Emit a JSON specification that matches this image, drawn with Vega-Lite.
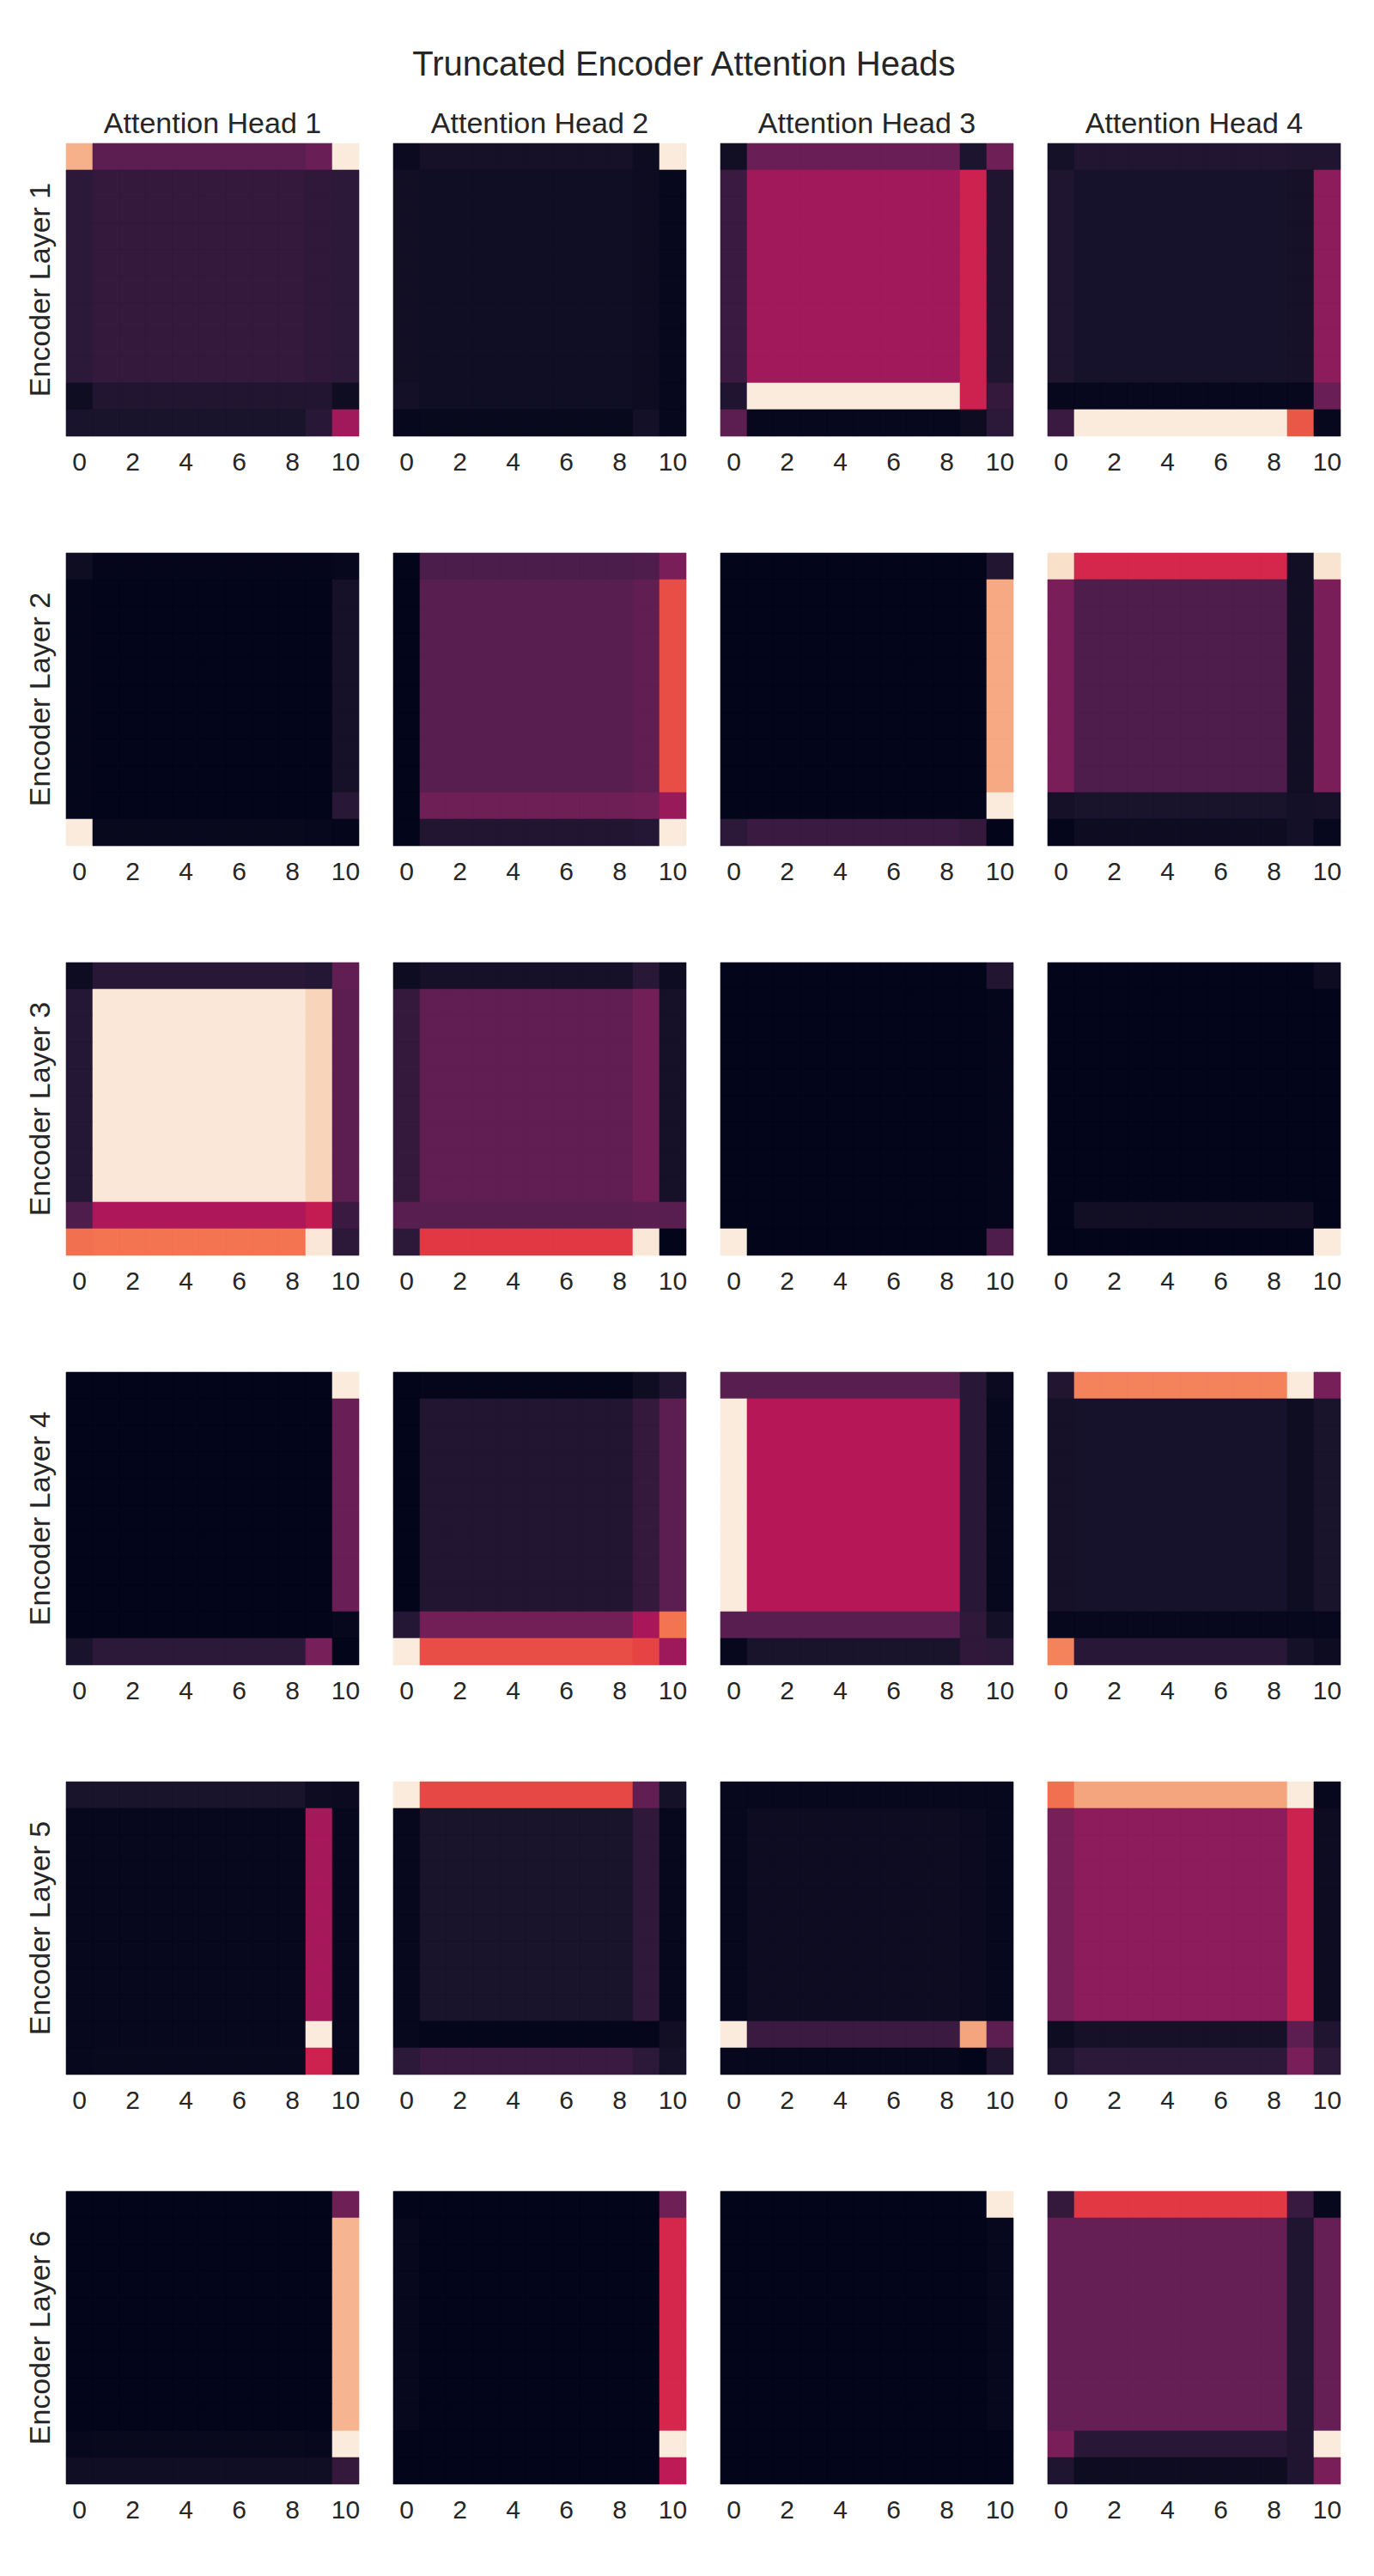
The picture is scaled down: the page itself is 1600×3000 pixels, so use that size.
{
"$schema":"https://vega.github.io/schema/vega-lite/v6.json",
"padding":{"left":30,"top":56,"right":0,"bottom":0},
"background":"white",
"title":{"text":"Truncated Encoder Attention Heads","fontSize":40,"fontWeight":"normal","font":"Liberation Sans","color":"#262626","anchor":"middle","offset":32},
"data":{"values":[
{"L":1,"H":1,"r":0,"c":[0,1,2,3,4,5,6,7,8,9,10],"v":[0.85,0.24,0.24,0.24,0.24,0.24,0.24,0.24,0.24,0.27,1]},
{"L":1,"H":1,"r":1,"c":[0,1,2,3,4,5,6,7,8,9,10],"v":[0.12,0.14,0.14,0.14,0.14,0.14,0.14,0.14,0.14,0.13,0.12]},
{"L":1,"H":1,"r":2,"c":[0,1,2,3,4,5,6,7,8,9,10],"v":[0.12,0.14,0.14,0.14,0.14,0.14,0.14,0.14,0.14,0.13,0.12]},
{"L":1,"H":1,"r":3,"c":[0,1,2,3,4,5,6,7,8,9,10],"v":[0.12,0.14,0.14,0.14,0.14,0.14,0.14,0.14,0.14,0.13,0.12]},
{"L":1,"H":1,"r":4,"c":[0,1,2,3,4,5,6,7,8,9,10],"v":[0.12,0.14,0.14,0.14,0.14,0.14,0.14,0.14,0.14,0.13,0.12]},
{"L":1,"H":1,"r":5,"c":[0,1,2,3,4,5,6,7,8,9,10],"v":[0.12,0.14,0.14,0.14,0.14,0.14,0.14,0.14,0.14,0.13,0.12]},
{"L":1,"H":1,"r":6,"c":[0,1,2,3,4,5,6,7,8,9,10],"v":[0.12,0.14,0.14,0.14,0.14,0.14,0.14,0.14,0.14,0.13,0.12]},
{"L":1,"H":1,"r":7,"c":[0,1,2,3,4,5,6,7,8,9,10],"v":[0.12,0.14,0.14,0.14,0.14,0.14,0.14,0.14,0.14,0.13,0.12]},
{"L":1,"H":1,"r":8,"c":[0,1,2,3,4,5,6,7,8,9,10],"v":[0.12,0.14,0.14,0.14,0.14,0.14,0.14,0.14,0.14,0.13,0.12]},
{"L":1,"H":1,"r":9,"c":[0,1,2,3,4,5,6,7,8,9,10],"v":[0.03,0.09,0.09,0.09,0.09,0.09,0.09,0.09,0.09,0.09,0.03]},
{"L":1,"H":1,"r":10,"c":[0,1,2,3,4,5,6,7,8,9,10],"v":[0.07,0.065,0.065,0.065,0.065,0.065,0.065,0.065,0.065,0.11,0.4]},
{"L":1,"H":2,"r":0,"c":[0,1,2,3,4,5,6,7,8,9,10],"v":[0.02,0.055,0.055,0.055,0.055,0.055,0.055,0.055,0.055,0.025,1]},
{"L":1,"H":2,"r":1,"c":[0,1,2,3,4,5,6,7,8,9,10],"v":[0.04,0.035,0.035,0.035,0.035,0.035,0.035,0.035,0.035,0.025,0.01]},
{"L":1,"H":2,"r":2,"c":[0,1,2,3,4,5,6,7,8,9,10],"v":[0.04,0.035,0.035,0.035,0.035,0.035,0.035,0.035,0.035,0.025,0.01]},
{"L":1,"H":2,"r":3,"c":[0,1,2,3,4,5,6,7,8,9,10],"v":[0.04,0.035,0.035,0.035,0.035,0.035,0.035,0.035,0.035,0.025,0.01]},
{"L":1,"H":2,"r":4,"c":[0,1,2,3,4,5,6,7,8,9,10],"v":[0.04,0.035,0.035,0.035,0.035,0.035,0.035,0.035,0.035,0.025,0.01]},
{"L":1,"H":2,"r":5,"c":[0,1,2,3,4,5,6,7,8,9,10],"v":[0.04,0.035,0.035,0.035,0.035,0.035,0.035,0.035,0.035,0.025,0.01]},
{"L":1,"H":2,"r":6,"c":[0,1,2,3,4,5,6,7,8,9,10],"v":[0.04,0.035,0.035,0.035,0.035,0.035,0.035,0.035,0.035,0.025,0.01]},
{"L":1,"H":2,"r":7,"c":[0,1,2,3,4,5,6,7,8,9,10],"v":[0.04,0.035,0.035,0.035,0.035,0.035,0.035,0.035,0.035,0.025,0.01]},
{"L":1,"H":2,"r":8,"c":[0,1,2,3,4,5,6,7,8,9,10],"v":[0.04,0.035,0.035,0.035,0.035,0.035,0.035,0.035,0.035,0.025,0.01]},
{"L":1,"H":2,"r":9,"c":[0,1,2,3,4,5,6,7,8,9,10],"v":[0.045,0.035,0.035,0.035,0.035,0.035,0.035,0.035,0.035,0.025,0.01]},
{"L":1,"H":2,"r":10,"c":[0,1,2,3,4,5,6,7,8,9,10],"v":[0.01,0.015,0.015,0.015,0.015,0.015,0.015,0.015,0.015,0.045,0.01]},
{"L":1,"H":3,"r":0,"c":[0,1,2,3,4,5,6,7,8,9,10],"v":[0.04,0.27,0.27,0.27,0.27,0.27,0.27,0.27,0.27,0.08,0.28]},
{"L":1,"H":3,"r":1,"c":[0,1,2,3,4,5,6,7,8,9,10],"v":[0.16,0.4,0.4,0.4,0.4,0.4,0.4,0.4,0.4,0.51,0.085]},
{"L":1,"H":3,"r":2,"c":[0,1,2,3,4,5,6,7,8,9,10],"v":[0.16,0.4,0.4,0.4,0.4,0.4,0.4,0.4,0.4,0.51,0.085]},
{"L":1,"H":3,"r":3,"c":[0,1,2,3,4,5,6,7,8,9,10],"v":[0.16,0.4,0.4,0.4,0.4,0.4,0.4,0.4,0.4,0.51,0.085]},
{"L":1,"H":3,"r":4,"c":[0,1,2,3,4,5,6,7,8,9,10],"v":[0.16,0.4,0.4,0.4,0.4,0.4,0.4,0.4,0.4,0.51,0.085]},
{"L":1,"H":3,"r":5,"c":[0,1,2,3,4,5,6,7,8,9,10],"v":[0.16,0.4,0.4,0.4,0.4,0.4,0.4,0.4,0.4,0.51,0.085]},
{"L":1,"H":3,"r":6,"c":[0,1,2,3,4,5,6,7,8,9,10],"v":[0.16,0.4,0.4,0.4,0.4,0.4,0.4,0.4,0.4,0.51,0.085]},
{"L":1,"H":3,"r":7,"c":[0,1,2,3,4,5,6,7,8,9,10],"v":[0.16,0.4,0.4,0.4,0.4,0.4,0.4,0.4,0.4,0.51,0.085]},
{"L":1,"H":3,"r":8,"c":[0,1,2,3,4,5,6,7,8,9,10],"v":[0.16,0.4,0.4,0.4,0.4,0.4,0.4,0.4,0.4,0.51,0.085]},
{"L":1,"H":3,"r":9,"c":[0,1,2,3,4,5,6,7,8,9,10],"v":[0.085,1,1,1,1,1,1,1,1,0.51,0.14]},
{"L":1,"H":3,"r":10,"c":[0,1,2,3,4,5,6,7,8,9,10],"v":[0.24,0.01,0.01,0.01,0.01,0.01,0.01,0.01,0.01,0.025,0.12]},
{"L":1,"H":4,"r":0,"c":[0,1,2,3,4,5,6,7,8,9,10],"v":[0.05,0.09,0.09,0.09,0.09,0.09,0.09,0.09,0.09,0.085,0.085]},
{"L":1,"H":4,"r":1,"c":[0,1,2,3,4,5,6,7,8,9,10],"v":[0.085,0.06,0.06,0.06,0.06,0.06,0.06,0.06,0.06,0.055,0.35]},
{"L":1,"H":4,"r":2,"c":[0,1,2,3,4,5,6,7,8,9,10],"v":[0.085,0.06,0.06,0.06,0.06,0.06,0.06,0.06,0.06,0.055,0.35]},
{"L":1,"H":4,"r":3,"c":[0,1,2,3,4,5,6,7,8,9,10],"v":[0.085,0.06,0.06,0.06,0.06,0.06,0.06,0.06,0.06,0.055,0.35]},
{"L":1,"H":4,"r":4,"c":[0,1,2,3,4,5,6,7,8,9,10],"v":[0.085,0.06,0.06,0.06,0.06,0.06,0.06,0.06,0.06,0.055,0.35]},
{"L":1,"H":4,"r":5,"c":[0,1,2,3,4,5,6,7,8,9,10],"v":[0.085,0.06,0.06,0.06,0.06,0.06,0.06,0.06,0.06,0.055,0.35]},
{"L":1,"H":4,"r":6,"c":[0,1,2,3,4,5,6,7,8,9,10],"v":[0.085,0.06,0.06,0.06,0.06,0.06,0.06,0.06,0.06,0.055,0.35]},
{"L":1,"H":4,"r":7,"c":[0,1,2,3,4,5,6,7,8,9,10],"v":[0.085,0.06,0.06,0.06,0.06,0.06,0.06,0.06,0.06,0.055,0.35]},
{"L":1,"H":4,"r":8,"c":[0,1,2,3,4,5,6,7,8,9,10],"v":[0.085,0.06,0.06,0.06,0.06,0.06,0.06,0.06,0.06,0.055,0.35]},
{"L":1,"H":4,"r":9,"c":[0,1,2,3,4,5,6,7,8,9,10],"v":[0.01,0.01,0.01,0.01,0.01,0.01,0.01,0.01,0.01,0.01,0.27]},
{"L":1,"H":4,"r":10,"c":[0,1,2,3,4,5,6,7,8,9,10],"v":[0.16,1,1,1,1,1,1,1,1,0.64,0.01]},
{"L":2,"H":1,"r":0,"c":[0,1,2,3,4,5,6,7,8,9,10],"v":[0.03,0.005,0.005,0.005,0.005,0.005,0.005,0.005,0.005,0.005,0.01]},
{"L":2,"H":1,"r":1,"c":[0,1,2,3,4,5,6,7,8,9,10],"v":[0.005,0,0,0,0,0,0,0,0,0,0.055]},
{"L":2,"H":1,"r":2,"c":[0,1,2,3,4,5,6,7,8,9,10],"v":[0.005,0,0,0,0,0,0,0,0,0,0.055]},
{"L":2,"H":1,"r":3,"c":[0,1,2,3,4,5,6,7,8,9,10],"v":[0.005,0,0,0,0,0,0,0,0,0,0.055]},
{"L":2,"H":1,"r":4,"c":[0,1,2,3,4,5,6,7,8,9,10],"v":[0.005,0,0,0,0,0,0,0,0,0,0.055]},
{"L":2,"H":1,"r":5,"c":[0,1,2,3,4,5,6,7,8,9,10],"v":[0.005,0,0,0,0,0,0,0,0,0,0.055]},
{"L":2,"H":1,"r":6,"c":[0,1,2,3,4,5,6,7,8,9,10],"v":[0.005,0,0,0,0,0,0,0,0,0,0.055]},
{"L":2,"H":1,"r":7,"c":[0,1,2,3,4,5,6,7,8,9,10],"v":[0.005,0,0,0,0,0,0,0,0,0,0.055]},
{"L":2,"H":1,"r":8,"c":[0,1,2,3,4,5,6,7,8,9,10],"v":[0.005,0,0,0,0,0,0,0,0,0,0.055]},
{"L":2,"H":1,"r":9,"c":[0,1,2,3,4,5,6,7,8,9,10],"v":[0.005,0,0,0,0,0,0,0,0,0,0.11]},
{"L":2,"H":1,"r":10,"c":[0,1,2,3,4,5,6,7,8,9,10],"v":[1,0.015,0.015,0.015,0.015,0.015,0.015,0.015,0.015,0.01,0.005]},
{"L":2,"H":2,"r":0,"c":[0,1,2,3,4,5,6,7,8,9,10],"v":[0,0.2,0.2,0.2,0.2,0.2,0.2,0.2,0.2,0.21,0.31]},
{"L":2,"H":2,"r":1,"c":[0,1,2,3,4,5,6,7,8,9,10],"v":[0,0.23,0.23,0.23,0.23,0.23,0.23,0.23,0.23,0.25,0.62]},
{"L":2,"H":2,"r":2,"c":[0,1,2,3,4,5,6,7,8,9,10],"v":[0,0.23,0.23,0.23,0.23,0.23,0.23,0.23,0.23,0.25,0.62]},
{"L":2,"H":2,"r":3,"c":[0,1,2,3,4,5,6,7,8,9,10],"v":[0,0.23,0.23,0.23,0.23,0.23,0.23,0.23,0.23,0.25,0.62]},
{"L":2,"H":2,"r":4,"c":[0,1,2,3,4,5,6,7,8,9,10],"v":[0,0.23,0.23,0.23,0.23,0.23,0.23,0.23,0.23,0.25,0.62]},
{"L":2,"H":2,"r":5,"c":[0,1,2,3,4,5,6,7,8,9,10],"v":[0,0.23,0.23,0.23,0.23,0.23,0.23,0.23,0.23,0.25,0.62]},
{"L":2,"H":2,"r":6,"c":[0,1,2,3,4,5,6,7,8,9,10],"v":[0,0.23,0.23,0.23,0.23,0.23,0.23,0.23,0.23,0.25,0.62]},
{"L":2,"H":2,"r":7,"c":[0,1,2,3,4,5,6,7,8,9,10],"v":[0,0.23,0.23,0.23,0.23,0.23,0.23,0.23,0.23,0.25,0.62]},
{"L":2,"H":2,"r":8,"c":[0,1,2,3,4,5,6,7,8,9,10],"v":[0,0.23,0.23,0.23,0.23,0.23,0.23,0.23,0.23,0.25,0.62]},
{"L":2,"H":2,"r":9,"c":[0,1,2,3,4,5,6,7,8,9,10],"v":[0,0.28,0.28,0.28,0.28,0.28,0.28,0.28,0.28,0.29,0.38]},
{"L":2,"H":2,"r":10,"c":[0,1,2,3,4,5,6,7,8,9,10],"v":[0,0.09,0.09,0.09,0.09,0.09,0.09,0.09,0.09,0.1,1]},
{"L":2,"H":3,"r":0,"c":[0,1,2,3,4,5,6,7,8,9,10],"v":[0,0,0,0,0,0,0,0,0,0,0.09]},
{"L":2,"H":3,"r":1,"c":[0,1,2,3,4,5,6,7,8,9,10],"v":[0,0,0,0,0,0,0,0,0,0,0.83]},
{"L":2,"H":3,"r":2,"c":[0,1,2,3,4,5,6,7,8,9,10],"v":[0,0,0,0,0,0,0,0,0,0,0.83]},
{"L":2,"H":3,"r":3,"c":[0,1,2,3,4,5,6,7,8,9,10],"v":[0,0,0,0,0,0,0,0,0,0,0.83]},
{"L":2,"H":3,"r":4,"c":[0,1,2,3,4,5,6,7,8,9,10],"v":[0,0,0,0,0,0,0,0,0,0,0.83]},
{"L":2,"H":3,"r":5,"c":[0,1,2,3,4,5,6,7,8,9,10],"v":[0,0,0,0,0,0,0,0,0,0,0.83]},
{"L":2,"H":3,"r":6,"c":[0,1,2,3,4,5,6,7,8,9,10],"v":[0,0,0,0,0,0,0,0,0,0,0.83]},
{"L":2,"H":3,"r":7,"c":[0,1,2,3,4,5,6,7,8,9,10],"v":[0,0,0,0,0,0,0,0,0,0,0.83]},
{"L":2,"H":3,"r":8,"c":[0,1,2,3,4,5,6,7,8,9,10],"v":[0,0,0,0,0,0,0,0,0,0,0.83]},
{"L":2,"H":3,"r":9,"c":[0,1,2,3,4,5,6,7,8,9,10],"v":[0,0,0,0,0,0,0,0,0,0,1]},
{"L":2,"H":3,"r":10,"c":[0,1,2,3,4,5,6,7,8,9,10],"v":[0.12,0.16,0.16,0.16,0.16,0.16,0.16,0.16,0.16,0.14,0]},
{"L":2,"H":4,"r":0,"c":[0,1,2,3,4,5,6,7,8,9,10],"v":[0.97,0.53,0.53,0.53,0.53,0.53,0.53,0.53,0.53,0.04,0.98]},
{"L":2,"H":4,"r":1,"c":[0,1,2,3,4,5,6,7,8,9,10],"v":[0.31,0.21,0.21,0.21,0.21,0.21,0.21,0.21,0.21,0.04,0.31]},
{"L":2,"H":4,"r":2,"c":[0,1,2,3,4,5,6,7,8,9,10],"v":[0.31,0.21,0.21,0.21,0.21,0.21,0.21,0.21,0.21,0.04,0.31]},
{"L":2,"H":4,"r":3,"c":[0,1,2,3,4,5,6,7,8,9,10],"v":[0.31,0.21,0.21,0.21,0.21,0.21,0.21,0.21,0.21,0.04,0.31]},
{"L":2,"H":4,"r":4,"c":[0,1,2,3,4,5,6,7,8,9,10],"v":[0.31,0.21,0.21,0.21,0.21,0.21,0.21,0.21,0.21,0.04,0.31]},
{"L":2,"H":4,"r":5,"c":[0,1,2,3,4,5,6,7,8,9,10],"v":[0.31,0.21,0.21,0.21,0.21,0.21,0.21,0.21,0.21,0.04,0.31]},
{"L":2,"H":4,"r":6,"c":[0,1,2,3,4,5,6,7,8,9,10],"v":[0.31,0.21,0.21,0.21,0.21,0.21,0.21,0.21,0.21,0.04,0.31]},
{"L":2,"H":4,"r":7,"c":[0,1,2,3,4,5,6,7,8,9,10],"v":[0.31,0.21,0.21,0.21,0.21,0.21,0.21,0.21,0.21,0.04,0.31]},
{"L":2,"H":4,"r":8,"c":[0,1,2,3,4,5,6,7,8,9,10],"v":[0.31,0.21,0.21,0.21,0.21,0.21,0.21,0.21,0.21,0.04,0.31]},
{"L":2,"H":4,"r":9,"c":[0,1,2,3,4,5,6,7,8,9,10],"v":[0.055,0.065,0.065,0.065,0.065,0.065,0.065,0.065,0.065,0.045,0.055]},
{"L":2,"H":4,"r":10,"c":[0,1,2,3,4,5,6,7,8,9,10],"v":[0.005,0.025,0.025,0.025,0.025,0.025,0.025,0.025,0.025,0.045,0.01]},
{"L":3,"H":1,"r":0,"c":[0,1,2,3,4,5,6,7,8,9,10],"v":[0.025,0.11,0.11,0.11,0.11,0.11,0.11,0.11,0.11,0.1,0.25]},
{"L":3,"H":1,"r":1,"c":[0,1,2,3,4,5,6,7,8,9,10],"v":[0.1,0.99,0.99,0.99,0.99,0.99,0.99,0.99,0.99,0.94,0.24]},
{"L":3,"H":1,"r":2,"c":[0,1,2,3,4,5,6,7,8,9,10],"v":[0.1,0.99,0.99,0.99,0.99,0.99,0.99,0.99,0.99,0.94,0.24]},
{"L":3,"H":1,"r":3,"c":[0,1,2,3,4,5,6,7,8,9,10],"v":[0.1,0.99,0.99,0.99,0.99,0.99,0.99,0.99,0.99,0.94,0.24]},
{"L":3,"H":1,"r":4,"c":[0,1,2,3,4,5,6,7,8,9,10],"v":[0.1,0.99,0.99,0.99,0.99,0.99,0.99,0.99,0.99,0.94,0.24]},
{"L":3,"H":1,"r":5,"c":[0,1,2,3,4,5,6,7,8,9,10],"v":[0.1,0.99,0.99,0.99,0.99,0.99,0.99,0.99,0.99,0.94,0.24]},
{"L":3,"H":1,"r":6,"c":[0,1,2,3,4,5,6,7,8,9,10],"v":[0.1,0.99,0.99,0.99,0.99,0.99,0.99,0.99,0.99,0.94,0.24]},
{"L":3,"H":1,"r":7,"c":[0,1,2,3,4,5,6,7,8,9,10],"v":[0.1,0.99,0.99,0.99,0.99,0.99,0.99,0.99,0.99,0.94,0.24]},
{"L":3,"H":1,"r":8,"c":[0,1,2,3,4,5,6,7,8,9,10],"v":[0.1,0.99,0.99,0.99,0.99,0.99,0.99,0.99,0.99,0.94,0.24]},
{"L":3,"H":1,"r":9,"c":[0,1,2,3,4,5,6,7,8,9,10],"v":[0.21,0.43,0.43,0.43,0.43,0.43,0.43,0.43,0.43,0.48,0.16]},
{"L":3,"H":1,"r":10,"c":[0,1,2,3,4,5,6,7,8,9,10],"v":[0.7,0.71,0.71,0.71,0.71,0.71,0.71,0.71,0.71,0.99,0.12]},
{"L":3,"H":2,"r":0,"c":[0,1,2,3,4,5,6,7,8,9,10],"v":[0.025,0.055,0.055,0.055,0.055,0.055,0.055,0.055,0.055,0.11,0.025]},
{"L":3,"H":2,"r":1,"c":[0,1,2,3,4,5,6,7,8,9,10],"v":[0.14,0.25,0.25,0.25,0.25,0.25,0.25,0.25,0.25,0.29,0.055]},
{"L":3,"H":2,"r":2,"c":[0,1,2,3,4,5,6,7,8,9,10],"v":[0.14,0.25,0.25,0.25,0.25,0.25,0.25,0.25,0.25,0.29,0.055]},
{"L":3,"H":2,"r":3,"c":[0,1,2,3,4,5,6,7,8,9,10],"v":[0.14,0.25,0.25,0.25,0.25,0.25,0.25,0.25,0.25,0.29,0.055]},
{"L":3,"H":2,"r":4,"c":[0,1,2,3,4,5,6,7,8,9,10],"v":[0.14,0.25,0.25,0.25,0.25,0.25,0.25,0.25,0.25,0.29,0.055]},
{"L":3,"H":2,"r":5,"c":[0,1,2,3,4,5,6,7,8,9,10],"v":[0.14,0.25,0.25,0.25,0.25,0.25,0.25,0.25,0.25,0.29,0.055]},
{"L":3,"H":2,"r":6,"c":[0,1,2,3,4,5,6,7,8,9,10],"v":[0.14,0.25,0.25,0.25,0.25,0.25,0.25,0.25,0.25,0.29,0.055]},
{"L":3,"H":2,"r":7,"c":[0,1,2,3,4,5,6,7,8,9,10],"v":[0.14,0.25,0.25,0.25,0.25,0.25,0.25,0.25,0.25,0.29,0.055]},
{"L":3,"H":2,"r":8,"c":[0,1,2,3,4,5,6,7,8,9,10],"v":[0.14,0.25,0.25,0.25,0.25,0.25,0.25,0.25,0.25,0.29,0.055]},
{"L":3,"H":2,"r":9,"c":[0,1,2,3,4,5,6,7,8,9,10],"v":[0.23,0.23,0.23,0.23,0.23,0.23,0.23,0.23,0.23,0.235,0.23]},
{"L":3,"H":2,"r":10,"c":[0,1,2,3,4,5,6,7,8,9,10],"v":[0.12,0.58,0.58,0.58,0.58,0.58,0.58,0.58,0.58,0.99,0]},
{"L":3,"H":3,"r":0,"c":[0,1,2,3,4,5,6,7,8,9,10],"v":[0,0,0,0,0,0,0,0,0,0,0.09]},
{"L":3,"H":3,"r":1,"c":[0,1,2,3,4,5,6,7,8,9,10],"v":[0,0,0,0,0,0,0,0,0,0,0.005]},
{"L":3,"H":3,"r":2,"c":[0,1,2,3,4,5,6,7,8,9,10],"v":[0,0,0,0,0,0,0,0,0,0,0.005]},
{"L":3,"H":3,"r":3,"c":[0,1,2,3,4,5,6,7,8,9,10],"v":[0,0,0,0,0,0,0,0,0,0,0.005]},
{"L":3,"H":3,"r":4,"c":[0,1,2,3,4,5,6,7,8,9,10],"v":[0,0,0,0,0,0,0,0,0,0,0.005]},
{"L":3,"H":3,"r":5,"c":[0,1,2,3,4,5,6,7,8,9,10],"v":[0,0,0,0,0,0,0,0,0,0,0.005]},
{"L":3,"H":3,"r":6,"c":[0,1,2,3,4,5,6,7,8,9,10],"v":[0,0,0,0,0,0,0,0,0,0,0.005]},
{"L":3,"H":3,"r":7,"c":[0,1,2,3,4,5,6,7,8,9,10],"v":[0,0,0,0,0,0,0,0,0,0,0.005]},
{"L":3,"H":3,"r":8,"c":[0,1,2,3,4,5,6,7,8,9,10],"v":[0,0,0,0,0,0,0,0,0,0,0.005]},
{"L":3,"H":3,"r":9,"c":[0,1,2,3,4,5,6,7,8,9,10],"v":[0,0,0,0,0,0,0,0,0,0,0.005]},
{"L":3,"H":3,"r":10,"c":[0,1,2,3,4,5,6,7,8,9,10],"v":[1,0,0,0,0,0,0,0,0,0,0.21]},
{"L":3,"H":4,"r":0,"c":[0,1,2,3,4,5,6,7,8,9,10],"v":[0,0,0,0,0,0,0,0,0,0,0.025]},
{"L":3,"H":4,"r":1,"c":[0,1,2,3,4,5,6,7,8,9,10],"v":[0,0,0,0,0,0,0,0,0,0,0]},
{"L":3,"H":4,"r":2,"c":[0,1,2,3,4,5,6,7,8,9,10],"v":[0,0,0,0,0,0,0,0,0,0,0]},
{"L":3,"H":4,"r":3,"c":[0,1,2,3,4,5,6,7,8,9,10],"v":[0,0,0,0,0,0,0,0,0,0,0]},
{"L":3,"H":4,"r":4,"c":[0,1,2,3,4,5,6,7,8,9,10],"v":[0,0,0,0,0,0,0,0,0,0,0]},
{"L":3,"H":4,"r":5,"c":[0,1,2,3,4,5,6,7,8,9,10],"v":[0,0,0,0,0,0,0,0,0,0,0]},
{"L":3,"H":4,"r":6,"c":[0,1,2,3,4,5,6,7,8,9,10],"v":[0,0,0,0,0,0,0,0,0,0,0]},
{"L":3,"H":4,"r":7,"c":[0,1,2,3,4,5,6,7,8,9,10],"v":[0,0,0,0,0,0,0,0,0,0,0]},
{"L":3,"H":4,"r":8,"c":[0,1,2,3,4,5,6,7,8,9,10],"v":[0,0,0,0,0,0,0,0,0,0,0]},
{"L":3,"H":4,"r":9,"c":[0,1,2,3,4,5,6,7,8,9,10],"v":[0,0.04,0.04,0.04,0.04,0.04,0.04,0.04,0.04,0.04,0]},
{"L":3,"H":4,"r":10,"c":[0,1,2,3,4,5,6,7,8,9,10],"v":[0,0,0,0,0,0,0,0,0,0,1]},
{"L":4,"H":1,"r":0,"c":[0,1,2,3,4,5,6,7,8,9,10],"v":[0,0,0,0,0,0,0,0,0,0,1]},
{"L":4,"H":1,"r":1,"c":[0,1,2,3,4,5,6,7,8,9,10],"v":[0,0,0,0,0,0,0,0,0,0,0.27]},
{"L":4,"H":1,"r":2,"c":[0,1,2,3,4,5,6,7,8,9,10],"v":[0,0,0,0,0,0,0,0,0,0,0.27]},
{"L":4,"H":1,"r":3,"c":[0,1,2,3,4,5,6,7,8,9,10],"v":[0,0,0,0,0,0,0,0,0,0,0.27]},
{"L":4,"H":1,"r":4,"c":[0,1,2,3,4,5,6,7,8,9,10],"v":[0,0,0,0,0,0,0,0,0,0,0.27]},
{"L":4,"H":1,"r":5,"c":[0,1,2,3,4,5,6,7,8,9,10],"v":[0,0,0,0,0,0,0,0,0,0,0.27]},
{"L":4,"H":1,"r":6,"c":[0,1,2,3,4,5,6,7,8,9,10],"v":[0,0,0,0,0,0,0,0,0,0,0.27]},
{"L":4,"H":1,"r":7,"c":[0,1,2,3,4,5,6,7,8,9,10],"v":[0,0,0,0,0,0,0,0,0,0,0.27]},
{"L":4,"H":1,"r":8,"c":[0,1,2,3,4,5,6,7,8,9,10],"v":[0,0,0,0,0,0,0,0,0,0,0.27]},
{"L":4,"H":1,"r":9,"c":[0,1,2,3,4,5,6,7,8,9,10],"v":[0,0,0,0,0,0,0,0,0,0,0.01]},
{"L":4,"H":1,"r":10,"c":[0,1,2,3,4,5,6,7,8,9,10],"v":[0.07,0.12,0.12,0.12,0.12,0.12,0.12,0.12,0.12,0.3,0]},
{"L":4,"H":2,"r":0,"c":[0,1,2,3,4,5,6,7,8,9,10],"v":[0,0.005,0.005,0.005,0.005,0.005,0.005,0.005,0.005,0.03,0.085]},
{"L":4,"H":2,"r":1,"c":[0,1,2,3,4,5,6,7,8,9,10],"v":[0,0.09,0.09,0.09,0.09,0.09,0.09,0.09,0.09,0.14,0.24]},
{"L":4,"H":2,"r":2,"c":[0,1,2,3,4,5,6,7,8,9,10],"v":[0,0.09,0.09,0.09,0.09,0.09,0.09,0.09,0.09,0.14,0.24]},
{"L":4,"H":2,"r":3,"c":[0,1,2,3,4,5,6,7,8,9,10],"v":[0,0.09,0.09,0.09,0.09,0.09,0.09,0.09,0.09,0.14,0.24]},
{"L":4,"H":2,"r":4,"c":[0,1,2,3,4,5,6,7,8,9,10],"v":[0,0.09,0.09,0.09,0.09,0.09,0.09,0.09,0.09,0.14,0.24]},
{"L":4,"H":2,"r":5,"c":[0,1,2,3,4,5,6,7,8,9,10],"v":[0,0.09,0.09,0.09,0.09,0.09,0.09,0.09,0.09,0.14,0.24]},
{"L":4,"H":2,"r":6,"c":[0,1,2,3,4,5,6,7,8,9,10],"v":[0,0.09,0.09,0.09,0.09,0.09,0.09,0.09,0.09,0.14,0.24]},
{"L":4,"H":2,"r":7,"c":[0,1,2,3,4,5,6,7,8,9,10],"v":[0,0.09,0.09,0.09,0.09,0.09,0.09,0.09,0.09,0.14,0.24]},
{"L":4,"H":2,"r":8,"c":[0,1,2,3,4,5,6,7,8,9,10],"v":[0,0.09,0.09,0.09,0.09,0.09,0.09,0.09,0.09,0.14,0.24]},
{"L":4,"H":2,"r":9,"c":[0,1,2,3,4,5,6,7,8,9,10],"v":[0.1,0.29,0.29,0.29,0.29,0.29,0.29,0.29,0.29,0.42,0.71]},
{"L":4,"H":2,"r":10,"c":[0,1,2,3,4,5,6,7,8,9,10],"v":[1,0.62,0.62,0.62,0.62,0.62,0.62,0.62,0.62,0.6,0.39]},
{"L":4,"H":3,"r":0,"c":[0,1,2,3,4,5,6,7,8,9,10],"v":[0.23,0.23,0.23,0.23,0.23,0.23,0.23,0.23,0.23,0.11,0.02]},
{"L":4,"H":3,"r":1,"c":[0,1,2,3,4,5,6,7,8,9,10],"v":[1,0.45,0.45,0.45,0.45,0.45,0.45,0.45,0.45,0.11,0.01]},
{"L":4,"H":3,"r":2,"c":[0,1,2,3,4,5,6,7,8,9,10],"v":[1,0.45,0.45,0.45,0.45,0.45,0.45,0.45,0.45,0.11,0.01]},
{"L":4,"H":3,"r":3,"c":[0,1,2,3,4,5,6,7,8,9,10],"v":[1,0.45,0.45,0.45,0.45,0.45,0.45,0.45,0.45,0.11,0.01]},
{"L":4,"H":3,"r":4,"c":[0,1,2,3,4,5,6,7,8,9,10],"v":[1,0.45,0.45,0.45,0.45,0.45,0.45,0.45,0.45,0.11,0.01]},
{"L":4,"H":3,"r":5,"c":[0,1,2,3,4,5,6,7,8,9,10],"v":[1,0.45,0.45,0.45,0.45,0.45,0.45,0.45,0.45,0.11,0.01]},
{"L":4,"H":3,"r":6,"c":[0,1,2,3,4,5,6,7,8,9,10],"v":[1,0.45,0.45,0.45,0.45,0.45,0.45,0.45,0.45,0.11,0.01]},
{"L":4,"H":3,"r":7,"c":[0,1,2,3,4,5,6,7,8,9,10],"v":[1,0.45,0.45,0.45,0.45,0.45,0.45,0.45,0.45,0.11,0.01]},
{"L":4,"H":3,"r":8,"c":[0,1,2,3,4,5,6,7,8,9,10],"v":[1,0.45,0.45,0.45,0.45,0.45,0.45,0.45,0.45,0.11,0.01]},
{"L":4,"H":3,"r":9,"c":[0,1,2,3,4,5,6,7,8,9,10],"v":[0.23,0.23,0.23,0.23,0.23,0.23,0.23,0.23,0.23,0.13,0.045]},
{"L":4,"H":3,"r":10,"c":[0,1,2,3,4,5,6,7,8,9,10],"v":[0.01,0.065,0.065,0.065,0.065,0.065,0.065,0.065,0.065,0.13,0.12]},
{"L":4,"H":4,"r":0,"c":[0,1,2,3,4,5,6,7,8,9,10],"v":[0.09,0.74,0.74,0.74,0.74,0.74,0.74,0.74,0.74,1,0.3]},
{"L":4,"H":4,"r":1,"c":[0,1,2,3,4,5,6,7,8,9,10],"v":[0.055,0.06,0.06,0.06,0.06,0.06,0.06,0.06,0.06,0.03,0.065]},
{"L":4,"H":4,"r":2,"c":[0,1,2,3,4,5,6,7,8,9,10],"v":[0.055,0.06,0.06,0.06,0.06,0.06,0.06,0.06,0.06,0.03,0.065]},
{"L":4,"H":4,"r":3,"c":[0,1,2,3,4,5,6,7,8,9,10],"v":[0.055,0.06,0.06,0.06,0.06,0.06,0.06,0.06,0.06,0.03,0.065]},
{"L":4,"H":4,"r":4,"c":[0,1,2,3,4,5,6,7,8,9,10],"v":[0.055,0.06,0.06,0.06,0.06,0.06,0.06,0.06,0.06,0.03,0.065]},
{"L":4,"H":4,"r":5,"c":[0,1,2,3,4,5,6,7,8,9,10],"v":[0.055,0.06,0.06,0.06,0.06,0.06,0.06,0.06,0.06,0.03,0.065]},
{"L":4,"H":4,"r":6,"c":[0,1,2,3,4,5,6,7,8,9,10],"v":[0.055,0.06,0.06,0.06,0.06,0.06,0.06,0.06,0.06,0.03,0.065]},
{"L":4,"H":4,"r":7,"c":[0,1,2,3,4,5,6,7,8,9,10],"v":[0.055,0.06,0.06,0.06,0.06,0.06,0.06,0.06,0.06,0.03,0.065]},
{"L":4,"H":4,"r":8,"c":[0,1,2,3,4,5,6,7,8,9,10],"v":[0.055,0.06,0.06,0.06,0.06,0.06,0.06,0.06,0.06,0.03,0.065]},
{"L":4,"H":4,"r":9,"c":[0,1,2,3,4,5,6,7,8,9,10],"v":[0.01,0.01,0.01,0.01,0.01,0.01,0.01,0.01,0.01,0.01,0.01]},
{"L":4,"H":4,"r":10,"c":[0,1,2,3,4,5,6,7,8,9,10],"v":[0.74,0.11,0.11,0.11,0.11,0.11,0.11,0.11,0.11,0.05,0.025]},
{"L":5,"H":1,"r":0,"c":[0,1,2,3,4,5,6,7,8,9,10],"v":[0.065,0.065,0.065,0.065,0.065,0.065,0.065,0.065,0.065,0.025,0.02]},
{"L":5,"H":1,"r":1,"c":[0,1,2,3,4,5,6,7,8,9,10],"v":[0.01,0.01,0.01,0.01,0.01,0.01,0.01,0.01,0.01,0.41,0.01]},
{"L":5,"H":1,"r":2,"c":[0,1,2,3,4,5,6,7,8,9,10],"v":[0.01,0.01,0.01,0.01,0.01,0.01,0.01,0.01,0.01,0.41,0.01]},
{"L":5,"H":1,"r":3,"c":[0,1,2,3,4,5,6,7,8,9,10],"v":[0.01,0.01,0.01,0.01,0.01,0.01,0.01,0.01,0.01,0.41,0.01]},
{"L":5,"H":1,"r":4,"c":[0,1,2,3,4,5,6,7,8,9,10],"v":[0.01,0.01,0.01,0.01,0.01,0.01,0.01,0.01,0.01,0.41,0.01]},
{"L":5,"H":1,"r":5,"c":[0,1,2,3,4,5,6,7,8,9,10],"v":[0.01,0.01,0.01,0.01,0.01,0.01,0.01,0.01,0.01,0.41,0.01]},
{"L":5,"H":1,"r":6,"c":[0,1,2,3,4,5,6,7,8,9,10],"v":[0.01,0.01,0.01,0.01,0.01,0.01,0.01,0.01,0.01,0.41,0.01]},
{"L":5,"H":1,"r":7,"c":[0,1,2,3,4,5,6,7,8,9,10],"v":[0.01,0.01,0.01,0.01,0.01,0.01,0.01,0.01,0.01,0.41,0.01]},
{"L":5,"H":1,"r":8,"c":[0,1,2,3,4,5,6,7,8,9,10],"v":[0.01,0.01,0.01,0.01,0.01,0.01,0.01,0.01,0.01,0.41,0.01]},
{"L":5,"H":1,"r":9,"c":[0,1,2,3,4,5,6,7,8,9,10],"v":[0.01,0.01,0.01,0.01,0.01,0.01,0.01,0.01,0.01,1,0.01]},
{"L":5,"H":1,"r":10,"c":[0,1,2,3,4,5,6,7,8,9,10],"v":[0.01,0.015,0.015,0.015,0.015,0.015,0.015,0.015,0.015,0.51,0.01]},
{"L":5,"H":2,"r":0,"c":[0,1,2,3,4,5,6,7,8,9,10],"v":[1,0.61,0.61,0.61,0.61,0.61,0.61,0.61,0.61,0.25,0.05]},
{"L":5,"H":2,"r":1,"c":[0,1,2,3,4,5,6,7,8,9,10],"v":[0.01,0.065,0.065,0.065,0.065,0.065,0.065,0.065,0.065,0.13,0.01]},
{"L":5,"H":2,"r":2,"c":[0,1,2,3,4,5,6,7,8,9,10],"v":[0.01,0.065,0.065,0.065,0.065,0.065,0.065,0.065,0.065,0.13,0.01]},
{"L":5,"H":2,"r":3,"c":[0,1,2,3,4,5,6,7,8,9,10],"v":[0.01,0.065,0.065,0.065,0.065,0.065,0.065,0.065,0.065,0.13,0.01]},
{"L":5,"H":2,"r":4,"c":[0,1,2,3,4,5,6,7,8,9,10],"v":[0.01,0.065,0.065,0.065,0.065,0.065,0.065,0.065,0.065,0.13,0.01]},
{"L":5,"H":2,"r":5,"c":[0,1,2,3,4,5,6,7,8,9,10],"v":[0.01,0.065,0.065,0.065,0.065,0.065,0.065,0.065,0.065,0.13,0.01]},
{"L":5,"H":2,"r":6,"c":[0,1,2,3,4,5,6,7,8,9,10],"v":[0.01,0.065,0.065,0.065,0.065,0.065,0.065,0.065,0.065,0.13,0.01]},
{"L":5,"H":2,"r":7,"c":[0,1,2,3,4,5,6,7,8,9,10],"v":[0.01,0.065,0.065,0.065,0.065,0.065,0.065,0.065,0.065,0.13,0.01]},
{"L":5,"H":2,"r":8,"c":[0,1,2,3,4,5,6,7,8,9,10],"v":[0.01,0.065,0.065,0.065,0.065,0.065,0.065,0.065,0.065,0.13,0.01]},
{"L":5,"H":2,"r":9,"c":[0,1,2,3,4,5,6,7,8,9,10],"v":[0.01,0.005,0.005,0.005,0.005,0.005,0.005,0.005,0.005,0.005,0.04]},
{"L":5,"H":2,"r":10,"c":[0,1,2,3,4,5,6,7,8,9,10],"v":[0.12,0.16,0.16,0.16,0.16,0.16,0.16,0.16,0.16,0.12,0.05]},
{"L":5,"H":3,"r":0,"c":[0,1,2,3,4,5,6,7,8,9,10],"v":[0.01,0.01,0.01,0.01,0.01,0.01,0.01,0.01,0.01,0.01,0.01]},
{"L":5,"H":3,"r":1,"c":[0,1,2,3,4,5,6,7,8,9,10],"v":[0.01,0.025,0.025,0.025,0.025,0.025,0.025,0.025,0.025,0.02,0.01]},
{"L":5,"H":3,"r":2,"c":[0,1,2,3,4,5,6,7,8,9,10],"v":[0.01,0.025,0.025,0.025,0.025,0.025,0.025,0.025,0.025,0.02,0.01]},
{"L":5,"H":3,"r":3,"c":[0,1,2,3,4,5,6,7,8,9,10],"v":[0.01,0.025,0.025,0.025,0.025,0.025,0.025,0.025,0.025,0.02,0.01]},
{"L":5,"H":3,"r":4,"c":[0,1,2,3,4,5,6,7,8,9,10],"v":[0.01,0.025,0.025,0.025,0.025,0.025,0.025,0.025,0.025,0.02,0.01]},
{"L":5,"H":3,"r":5,"c":[0,1,2,3,4,5,6,7,8,9,10],"v":[0.01,0.025,0.025,0.025,0.025,0.025,0.025,0.025,0.025,0.02,0.01]},
{"L":5,"H":3,"r":6,"c":[0,1,2,3,4,5,6,7,8,9,10],"v":[0.01,0.025,0.025,0.025,0.025,0.025,0.025,0.025,0.025,0.02,0.01]},
{"L":5,"H":3,"r":7,"c":[0,1,2,3,4,5,6,7,8,9,10],"v":[0.01,0.025,0.025,0.025,0.025,0.025,0.025,0.025,0.025,0.02,0.01]},
{"L":5,"H":3,"r":8,"c":[0,1,2,3,4,5,6,7,8,9,10],"v":[0.01,0.025,0.025,0.025,0.025,0.025,0.025,0.025,0.025,0.02,0.01]},
{"L":5,"H":3,"r":9,"c":[0,1,2,3,4,5,6,7,8,9,10],"v":[1,0.16,0.16,0.16,0.16,0.16,0.16,0.16,0.16,0.82,0.24]},
{"L":5,"H":3,"r":10,"c":[0,1,2,3,4,5,6,7,8,9,10],"v":[0.01,0.01,0.01,0.01,0.01,0.01,0.01,0.01,0.01,0,0.085]},
{"L":5,"H":4,"r":0,"c":[0,1,2,3,4,5,6,7,8,9,10],"v":[0.7,0.82,0.82,0.82,0.82,0.82,0.82,0.82,0.82,1,0.01]},
{"L":5,"H":4,"r":1,"c":[0,1,2,3,4,5,6,7,8,9,10],"v":[0.3,0.35,0.35,0.35,0.35,0.35,0.35,0.35,0.35,0.51,0.025]},
{"L":5,"H":4,"r":2,"c":[0,1,2,3,4,5,6,7,8,9,10],"v":[0.3,0.35,0.35,0.35,0.35,0.35,0.35,0.35,0.35,0.51,0.025]},
{"L":5,"H":4,"r":3,"c":[0,1,2,3,4,5,6,7,8,9,10],"v":[0.3,0.35,0.35,0.35,0.35,0.35,0.35,0.35,0.35,0.51,0.025]},
{"L":5,"H":4,"r":4,"c":[0,1,2,3,4,5,6,7,8,9,10],"v":[0.3,0.35,0.35,0.35,0.35,0.35,0.35,0.35,0.35,0.51,0.025]},
{"L":5,"H":4,"r":5,"c":[0,1,2,3,4,5,6,7,8,9,10],"v":[0.3,0.35,0.35,0.35,0.35,0.35,0.35,0.35,0.35,0.51,0.025]},
{"L":5,"H":4,"r":6,"c":[0,1,2,3,4,5,6,7,8,9,10],"v":[0.3,0.35,0.35,0.35,0.35,0.35,0.35,0.35,0.35,0.51,0.025]},
{"L":5,"H":4,"r":7,"c":[0,1,2,3,4,5,6,7,8,9,10],"v":[0.3,0.35,0.35,0.35,0.35,0.35,0.35,0.35,0.35,0.51,0.025]},
{"L":5,"H":4,"r":8,"c":[0,1,2,3,4,5,6,7,8,9,10],"v":[0.3,0.35,0.35,0.35,0.35,0.35,0.35,0.35,0.35,0.51,0.025]},
{"L":5,"H":4,"r":9,"c":[0,1,2,3,4,5,6,7,8,9,10],"v":[0.025,0.055,0.055,0.055,0.055,0.055,0.055,0.055,0.055,0.24,0.085]},
{"L":5,"H":4,"r":10,"c":[0,1,2,3,4,5,6,7,8,9,10],"v":[0.085,0.12,0.12,0.12,0.12,0.12,0.12,0.12,0.12,0.31,0.12]},
{"L":6,"H":1,"r":0,"c":[0,1,2,3,4,5,6,7,8,9,10],"v":[0,0,0,0,0,0,0,0,0,0,0.28]},
{"L":6,"H":1,"r":1,"c":[0,1,2,3,4,5,6,7,8,9,10],"v":[0,0,0,0,0,0,0,0,0,0,0.86]},
{"L":6,"H":1,"r":2,"c":[0,1,2,3,4,5,6,7,8,9,10],"v":[0,0,0,0,0,0,0,0,0,0,0.86]},
{"L":6,"H":1,"r":3,"c":[0,1,2,3,4,5,6,7,8,9,10],"v":[0,0,0,0,0,0,0,0,0,0,0.86]},
{"L":6,"H":1,"r":4,"c":[0,1,2,3,4,5,6,7,8,9,10],"v":[0,0,0,0,0,0,0,0,0,0,0.86]},
{"L":6,"H":1,"r":5,"c":[0,1,2,3,4,5,6,7,8,9,10],"v":[0,0,0,0,0,0,0,0,0,0,0.86]},
{"L":6,"H":1,"r":6,"c":[0,1,2,3,4,5,6,7,8,9,10],"v":[0,0,0,0,0,0,0,0,0,0,0.86]},
{"L":6,"H":1,"r":7,"c":[0,1,2,3,4,5,6,7,8,9,10],"v":[0,0,0,0,0,0,0,0,0,0,0.86]},
{"L":6,"H":1,"r":8,"c":[0,1,2,3,4,5,6,7,8,9,10],"v":[0,0,0,0,0,0,0,0,0,0,0.86]},
{"L":6,"H":1,"r":9,"c":[0,1,2,3,4,5,6,7,8,9,10],"v":[0.01,0.015,0.015,0.015,0.015,0.015,0.015,0.015,0.015,0.01,1]},
{"L":6,"H":1,"r":10,"c":[0,1,2,3,4,5,6,7,8,9,10],"v":[0.035,0.035,0.035,0.035,0.035,0.035,0.035,0.035,0.035,0.035,0.14]},
{"L":6,"H":2,"r":0,"c":[0,1,2,3,4,5,6,7,8,9,10],"v":[0,0,0,0,0,0,0,0,0,0,0.28]},
{"L":6,"H":2,"r":1,"c":[0,1,2,3,4,5,6,7,8,9,10],"v":[0.01,0,0,0,0,0,0,0,0,0,0.53]},
{"L":6,"H":2,"r":2,"c":[0,1,2,3,4,5,6,7,8,9,10],"v":[0.01,0,0,0,0,0,0,0,0,0,0.53]},
{"L":6,"H":2,"r":3,"c":[0,1,2,3,4,5,6,7,8,9,10],"v":[0.01,0,0,0,0,0,0,0,0,0,0.53]},
{"L":6,"H":2,"r":4,"c":[0,1,2,3,4,5,6,7,8,9,10],"v":[0.01,0,0,0,0,0,0,0,0,0,0.53]},
{"L":6,"H":2,"r":5,"c":[0,1,2,3,4,5,6,7,8,9,10],"v":[0.01,0,0,0,0,0,0,0,0,0,0.53]},
{"L":6,"H":2,"r":6,"c":[0,1,2,3,4,5,6,7,8,9,10],"v":[0.01,0,0,0,0,0,0,0,0,0,0.53]},
{"L":6,"H":2,"r":7,"c":[0,1,2,3,4,5,6,7,8,9,10],"v":[0.01,0,0,0,0,0,0,0,0,0,0.53]},
{"L":6,"H":2,"r":8,"c":[0,1,2,3,4,5,6,7,8,9,10],"v":[0.01,0,0,0,0,0,0,0,0,0,0.53]},
{"L":6,"H":2,"r":9,"c":[0,1,2,3,4,5,6,7,8,9,10],"v":[0,0,0,0,0,0,0,0,0,0,1]},
{"L":6,"H":2,"r":10,"c":[0,1,2,3,4,5,6,7,8,9,10],"v":[0,0,0,0,0,0,0,0,0,0,0.47]},
{"L":6,"H":3,"r":0,"c":[0,1,2,3,4,5,6,7,8,9,10],"v":[0,0,0,0,0,0,0,0,0,0,1]},
{"L":6,"H":3,"r":1,"c":[0,1,2,3,4,5,6,7,8,9,10],"v":[0,0,0,0,0,0,0,0,0,0,0.01]},
{"L":6,"H":3,"r":2,"c":[0,1,2,3,4,5,6,7,8,9,10],"v":[0,0,0,0,0,0,0,0,0,0,0.01]},
{"L":6,"H":3,"r":3,"c":[0,1,2,3,4,5,6,7,8,9,10],"v":[0,0,0,0,0,0,0,0,0,0,0.01]},
{"L":6,"H":3,"r":4,"c":[0,1,2,3,4,5,6,7,8,9,10],"v":[0,0,0,0,0,0,0,0,0,0,0.01]},
{"L":6,"H":3,"r":5,"c":[0,1,2,3,4,5,6,7,8,9,10],"v":[0,0,0,0,0,0,0,0,0,0,0.01]},
{"L":6,"H":3,"r":6,"c":[0,1,2,3,4,5,6,7,8,9,10],"v":[0,0,0,0,0,0,0,0,0,0,0.01]},
{"L":6,"H":3,"r":7,"c":[0,1,2,3,4,5,6,7,8,9,10],"v":[0,0,0,0,0,0,0,0,0,0,0.01]},
{"L":6,"H":3,"r":8,"c":[0,1,2,3,4,5,6,7,8,9,10],"v":[0,0,0,0,0,0,0,0,0,0,0.01]},
{"L":6,"H":3,"r":9,"c":[0,1,2,3,4,5,6,7,8,9,10],"v":[0,0,0,0,0,0,0,0,0,0,0]},
{"L":6,"H":3,"r":10,"c":[0,1,2,3,4,5,6,7,8,9,10],"v":[0,0,0,0,0,0,0,0,0,0,0]},
{"L":6,"H":4,"r":0,"c":[0,1,2,3,4,5,6,7,8,9,10],"v":[0.14,0.58,0.58,0.58,0.58,0.58,0.58,0.58,0.58,0.15,0.01]},
{"L":6,"H":4,"r":1,"c":[0,1,2,3,4,5,6,7,8,9,10],"v":[0.26,0.26,0.26,0.26,0.26,0.26,0.26,0.26,0.26,0.085,0.26]},
{"L":6,"H":4,"r":2,"c":[0,1,2,3,4,5,6,7,8,9,10],"v":[0.26,0.26,0.26,0.26,0.26,0.26,0.26,0.26,0.26,0.085,0.26]},
{"L":6,"H":4,"r":3,"c":[0,1,2,3,4,5,6,7,8,9,10],"v":[0.26,0.26,0.26,0.26,0.26,0.26,0.26,0.26,0.26,0.085,0.26]},
{"L":6,"H":4,"r":4,"c":[0,1,2,3,4,5,6,7,8,9,10],"v":[0.26,0.26,0.26,0.26,0.26,0.26,0.26,0.26,0.26,0.085,0.26]},
{"L":6,"H":4,"r":5,"c":[0,1,2,3,4,5,6,7,8,9,10],"v":[0.26,0.26,0.26,0.26,0.26,0.26,0.26,0.26,0.26,0.085,0.26]},
{"L":6,"H":4,"r":6,"c":[0,1,2,3,4,5,6,7,8,9,10],"v":[0.26,0.26,0.26,0.26,0.26,0.26,0.26,0.26,0.26,0.085,0.26]},
{"L":6,"H":4,"r":7,"c":[0,1,2,3,4,5,6,7,8,9,10],"v":[0.26,0.26,0.26,0.26,0.26,0.26,0.26,0.26,0.26,0.085,0.26]},
{"L":6,"H":4,"r":8,"c":[0,1,2,3,4,5,6,7,8,9,10],"v":[0.26,0.26,0.26,0.26,0.26,0.26,0.26,0.26,0.26,0.085,0.26]},
{"L":6,"H":4,"r":9,"c":[0,1,2,3,4,5,6,7,8,9,10],"v":[0.31,0.11,0.11,0.11,0.11,0.11,0.11,0.11,0.11,0.085,1]},
{"L":6,"H":4,"r":10,"c":[0,1,2,3,4,5,6,7,8,9,10],"v":[0.085,0.025,0.025,0.025,0.025,0.025,0.025,0.025,0.025,0.085,0.31]}
]},
"transform":[{"flatten":["c","v"]}],
"facet":{
"row":{"field":"L","type":"ordinal","header":{"labelExpr":"'Encoder Layer ' + datum.value","labelFontSize":34,"labelFont":"Liberation Sans","labelColor":"#262626","labelAngle":-90,"labelOrient":"left","labelPadding":-5,"title":null}},
"column":{"field":"H","type":"ordinal","header":{"labelExpr":"'Attention Head ' + datum.value","labelFontSize":34,"labelFont":"Liberation Sans","labelColor":"#262626","labelPadding":5,"title":null}}
},
"spacing":{"row":136,"column":40},
"bounds":"flush",
"resolve":{"axis":{"x":"independent"}},
"spec":{
"width":341,"height":341,
"mark":{"type":"rect","strokeWidth":0.6},
"encoding":{
"x":{"field":"c","type":"ordinal","scale":{"paddingInner":0,"paddingOuter":0},"axis":{"values":[0,2,4,6,8,10],"ticks":false,"domain":false,"labelAngle":0,"labelFontSize":30,"labelFont":"Liberation Sans","labelColor":"#262626","labelPadding":15,"title":null,"grid":false}},
"y":{"field":"r","type":"ordinal","scale":{"paddingInner":0,"paddingOuter":0},"axis":null},
"color":{"field":"v","type":"quantitative","scale":{"domain":[0,1],"range":["#03051a","#35193e","#701f57","#ad1759","#e13342","#f37651","#f6b48f","#faebdd"]},"legend":null},
"stroke":{"field":"v","type":"quantitative","scale":{"domain":[0,1],"range":["#03051a","#35193e","#701f57","#ad1759","#e13342","#f37651","#f6b48f","#faebdd"]},"legend":null}
}
},
"config":{"view":{"stroke":null},"font":"Liberation Sans"}
}
